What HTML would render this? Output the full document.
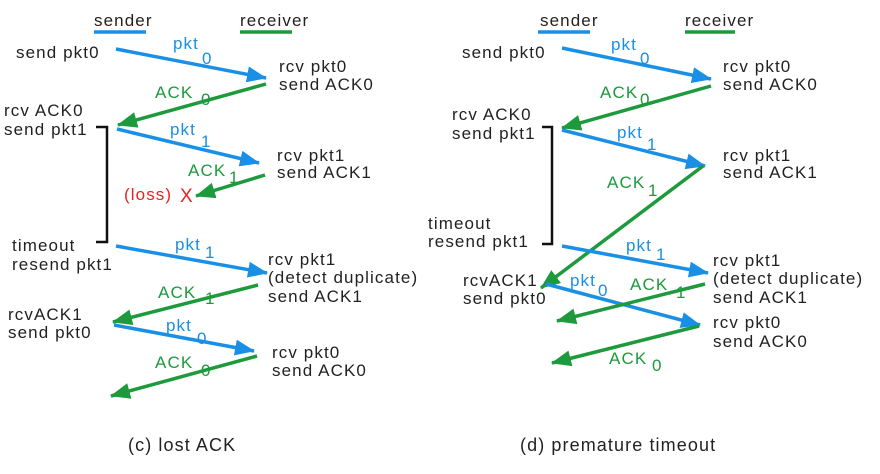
<!DOCTYPE html>
<html><head><meta charset="utf-8"><style>
html,body{margin:0;padding:0;background:#fff;}
svg{display:block;}
text{font-family:"Liberation Sans",sans-serif;font-size:17px;letter-spacing:1.1px;fill:#222;}
.b{fill:#1a8fe6;}.g{fill:#1c9a3c;}.r{fill:#e8231f;}
.lb{stroke:#1a8fe6;stroke-width:3.5;}.lg{stroke:#1c9a3c;stroke-width:3.5;}
</style></head><body>
<svg width="880" height="474" viewBox="0 0 880 474" xmlns="http://www.w3.org/2000/svg">
<defs>
<marker id="mb" markerUnits="userSpaceOnUse" markerWidth="24" markerHeight="20" refX="19" refY="8" orient="auto"><path d="M0,0 L20,8 L0,16 z" fill="#1a8fe6"/></marker>
<marker id="mg" markerUnits="userSpaceOnUse" markerWidth="24" markerHeight="20" refX="19" refY="8" orient="auto"><path d="M0,0 L20,8 L0,16 z" fill="#1c9a3c"/></marker>
</defs>
<!-- LEFT -->
<text x="94" y="26">sender</text><line x1="94" y1="32" x2="146" y2="32" class="lb" stroke-width="2.5"/>
<text x="240" y="26">receiver</text><line x1="240" y1="32" x2="292" y2="32" class="lg" stroke-width="2.5"/>
<text x="16" y="58">send pkt0</text>
<line x1="116" y1="49" x2="266" y2="78" class="lb" marker-end="url(#mb)"/>
<text x="173" y="49" class="b">pkt</text><text x="202" y="64" class="b">0</text>
<text x="279" y="72">rcv pkt0</text><text x="279" y="90">send ACK0</text>
<line x1="266" y1="84" x2="118" y2="125" class="lg" marker-end="url(#mg)"/>
<text x="155" y="98" class="g">ACK</text><text x="201" y="105" class="g">0</text>
<text x="4" y="116">rcv ACK0</text><text x="4" y="135">send pkt1</text>
<path d="M96,127 H107 V242 H96" fill="none" stroke="#111" stroke-width="2.5"/>
<line x1="117" y1="129" x2="259" y2="163" class="lb" marker-end="url(#mb)"/>
<text x="170" y="135" class="b">pkt</text><text x="201" y="147" class="b">1</text>
<text x="277" y="161">rcv pkt1</text><text x="277" y="178">send ACK1</text>
<line x1="265" y1="175" x2="196" y2="196" class="lg" marker-end="url(#mg)"/>
<text x="188" y="176" class="g">ACK</text><text x="229" y="183" class="g">1</text>
<text x="124" y="200" class="r">(loss)</text><text x="180" y="202" class="r" style="font-size:19px">X</text>
<text x="12" y="251">timeout</text><text x="12" y="270">resend pkt1</text>
<line x1="116" y1="246" x2="267" y2="273" class="lb" marker-end="url(#mb)"/>
<text x="175" y="250" class="b">pkt</text><text x="205" y="258" class="b">1</text>
<text x="268" y="265">rcv pkt1</text><text x="268" y="283">(detect duplicate)</text><text x="268" y="302">send ACK1</text>
<line x1="258" y1="285" x2="113" y2="322" class="lg" marker-end="url(#mg)"/>
<text x="158" y="298" class="g">ACK</text><text x="205" y="304" class="g">1</text>
<text x="8" y="320">rcvACK1</text><text x="8" y="338">send pkt0</text>
<line x1="114" y1="325" x2="254" y2="351" class="lb" marker-end="url(#mb)"/>
<text x="166" y="331" class="b">pkt</text><text x="197" y="344" class="b">0</text>
<text x="272" y="358">rcv pkt0</text><text x="272" y="376">send ACK0</text>
<line x1="257" y1="356" x2="111" y2="396" class="lg" marker-end="url(#mg)"/>
<text x="155" y="368" class="g">ACK</text><text x="201" y="376" class="g">0</text>
<text x="128" y="451" style="font-size:18px">(c) lost ACK</text>
<!-- RIGHT -->
<text x="540" y="26">sender</text><line x1="538" y1="32" x2="590" y2="32" class="lb" stroke-width="2.5"/>
<text x="685" y="26">receiver</text><line x1="685" y1="32" x2="735" y2="32" class="lg" stroke-width="2.5"/>
<text x="462" y="58">send pkt0</text>
<line x1="562" y1="48" x2="711" y2="79" class="lb" marker-end="url(#mb)"/>
<text x="611" y="50" class="b">pkt</text><text x="640" y="64" class="b">0</text>
<text x="723" y="72">rcv pkt0</text><text x="723" y="90">send ACK0</text>
<line x1="711" y1="86" x2="562" y2="128" class="lg" marker-end="url(#mg)"/>
<text x="600" y="98" class="g">ACK</text><text x="640" y="105" class="g">0</text>
<text x="452" y="120">rcv ACK0</text><text x="452" y="139">send pkt1</text>
<path d="M542,127 H552 V244 H542" fill="none" stroke="#111" stroke-width="2.5"/>
<line x1="562" y1="130" x2="705" y2="166" class="lb" marker-end="url(#mb)"/>
<text x="617" y="138" class="b">pkt</text><text x="647" y="150" class="b">1</text>
<text x="723" y="161">rcv pkt1</text><text x="723" y="178">send ACK1</text>
<line x1="703" y1="166" x2="541" y2="288" class="lg" marker-end="url(#mg)"/>
<text x="607" y="188" class="g">ACK</text><text x="648" y="196" class="g">1</text>
<text x="428" y="229">timeout</text><text x="428" y="247">resend pkt1</text>
<line x1="562" y1="246" x2="708" y2="273" class="lb" marker-end="url(#mb)"/>
<text x="626" y="251" class="b">pkt</text><text x="656" y="260" class="b">1</text>
<text x="713" y="266">rcv pkt1</text><text x="713" y="284">(detect duplicate)</text><text x="713" y="303">send ACK1</text>
<text x="463" y="286">rcvACK1</text><text x="463" y="304">send pkt0</text>
<line x1="546" y1="284" x2="700" y2="325" class="lb" marker-end="url(#mb)"/>
<text x="570" y="286" class="b">pkt</text><text x="598" y="296" class="b">0</text>
<line x1="705" y1="284" x2="557" y2="321" class="lg" marker-end="url(#mg)"/>
<text x="630" y="290" class="g">ACK</text><text x="676" y="298" class="g">1</text>
<text x="713" y="328">rcv pkt0</text><text x="713" y="347">send ACK0</text>
<line x1="699" y1="326" x2="552" y2="363" class="lg" marker-end="url(#mg)"/>
<text x="609" y="364" class="g">ACK</text><text x="652" y="371" class="g">0</text>
<text x="520" y="451" style="font-size:18px">(d) premature timeout</text>
</svg>
</body></html>
